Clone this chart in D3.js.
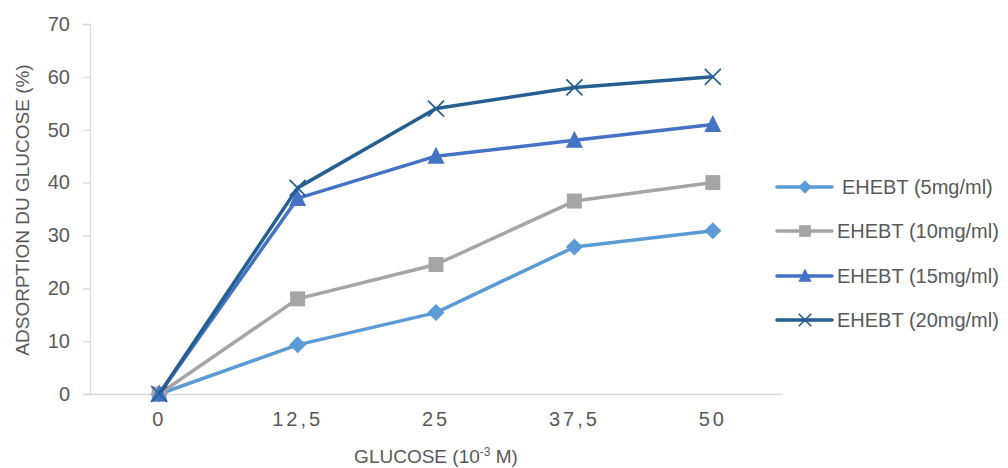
<!DOCTYPE html>
<html lang="fr">
<head>
<meta charset="UTF-8">
<title>Adsorption du glucose</title>
<script src="https://cdn.jsdelivr.net/npm/d3@7"></script>
<style>
  body { margin: 0; background: #fff; }
  text { font-family: "Liberation Sans", Arial, sans-serif; fill: #595959; }
</style>
</head>
<body>
<svg width="1008" height="468"></svg>
<script>
// categories on x (10^-3 M)
var categories = ["0", "12,5", "25", "37,5", "50"];
var yTicks = [0, 10, 20, 30, 40, 50, 60, 70];

// adsorption (%) per concentration
var ehebt5  = [0, 9.3, 15.4, 27.8, 30.9];
var ehebt10 = [0, 18, 24.5, 36.5, 40];
var ehebt15 = [0, 37, 45, 48, 51];
var ehebt20 = [0, 39, 54, 58, 60];

var seriesNames = ["EHEBT (5mg/ml)", "EHEBT (10mg/ml)", "EHEBT (15mg/ml)", "EHEBT (20mg/ml)"];

var series = [
  { name: seriesNames[0], values: ehebt5,  color: "#5B9BD5", marker: "diamond" },
  { name: seriesNames[1], values: ehebt10, color: "#A5A5A5", marker: "square" },
  { name: seriesNames[2], values: ehebt15, color: "#4472C4", marker: "triangle" },
  { name: seriesNames[3], values: ehebt20, color: "#255E91", marker: "cross" }
];

var svg = d3.select("svg");
var margin = { left: 90, right: 226, top: 24, bottom: 74 };
var width = 1008 - margin.left - margin.right,
    height = 468 - margin.top - margin.bottom;

var g = svg.append("g").attr("transform", "translate(" + margin.left + "," + margin.top + ")");

var x = d3.scaleBand().domain(categories).range([0, width]);
var y = d3.scaleLinear().domain([0, 70]).range([height, 0]);

// y axis
var yAxis = g.append("g").call(d3.axisLeft(y).tickValues(yTicks).tickSize(7).tickPadding(13));
yAxis.select(".domain").attr("stroke", "#D9D9D9").attr("stroke-width", 1.3);
yAxis.selectAll(".tick line").attr("stroke", "#D9D9D9").attr("stroke-width", 1.3);
yAxis.selectAll(".tick text").style("font-size", "20px").attr("fill", "#595959");

// x axis
var xAxis = g.append("g").attr("transform", "translate(0," + height + ")")
  .call(d3.axisBottom(x).tickSize(0).tickPadding(18));
xAxis.select(".domain").attr("stroke", "#D9D9D9").attr("stroke-width", 1.3);
xAxis.selectAll(".tick text").style("font-size", "20px").style("letter-spacing", "3px").attr("fill", "#595959");

// axis titles
svg.append("text")
  .attr("transform", "translate(29,210) rotate(-90)")
  .attr("text-anchor", "middle")
  .style("font-size", "19px")
  .text("ADSORPTION DU GLUCOSE (%)");

var xt = svg.append("text")
  .attr("x", 436).attr("y", 463)
  .attr("text-anchor", "middle")
  .style("font-size", "19px");
xt.append("tspan").text("GLUCOSE (10");
xt.append("tspan").attr("dy", -7).style("font-size", "12px").text("-3");
xt.append("tspan").attr("dy", 7).text(" M)");

function cx(i) { return x(categories[i]) + x.bandwidth() / 2; }

// k scales the marker (legend markers are a bit smaller)
function drawMarker(sel, type, color, px, py, k) {
  var t = "translate(" + px + "," + py + ") scale(" + k + ")";
  if (type === "diamond") {
    sel.append("path").attr("d", "M0,-8.5L8.5,0L0,8.5L-8.5,0Z").attr("transform", t).attr("fill", color);
  } else if (type === "square") {
    sel.append("path").attr("d", "M-7.5,-7.5H7.5V7.5H-7.5Z").attr("transform", t).attr("fill", color);
  } else if (type === "triangle") {
    sel.append("path").attr("d", "M0,-9.5L8.5,7.5L-8.5,7.5Z").attr("transform", t).attr("fill", color);
  } else {
    sel.append("path").attr("d", "M-8,-8L8,8M-8,8L8,-8").attr("transform", t)
      .attr("stroke", color).attr("stroke-width", 1.7 / k).attr("fill", "none");
  }
}

var line = d3.line().x(function(d, i) { return cx(i); }).y(function(d) { return y(d); });

series.forEach(function(s) {
  var sg = g.append("g");
  sg.append("path").datum(s.values).attr("d", line)
    .attr("fill", "none").attr("stroke", s.color).attr("stroke-width", 3.5)
    .attr("stroke-linejoin", "round");
  s.values.forEach(function(v, i) { drawMarker(sg, s.marker, s.color, cx(i), y(v), 1); });
});

// legend
var legendY = [187, 231, 276, 320];
var legend = svg.append("g");
series.forEach(function(s, i) {
  var ly = legendY[i];
  legend.append("line").attr("x1", 777).attr("x2", 832).attr("y1", ly).attr("y2", ly)
    .attr("stroke", s.color).attr("stroke-width", 3.5).attr("stroke-linecap", "round");
  drawMarker(legend, s.marker, s.color, 805, ly, 0.78);
  legend.append("text").attr("x", i === 0 ? 842 : 837).attr("y", ly).attr("dy", "0.35em")
    .style("font-size", "20px").text(s.name);
});
</script>
</body>
</html>
